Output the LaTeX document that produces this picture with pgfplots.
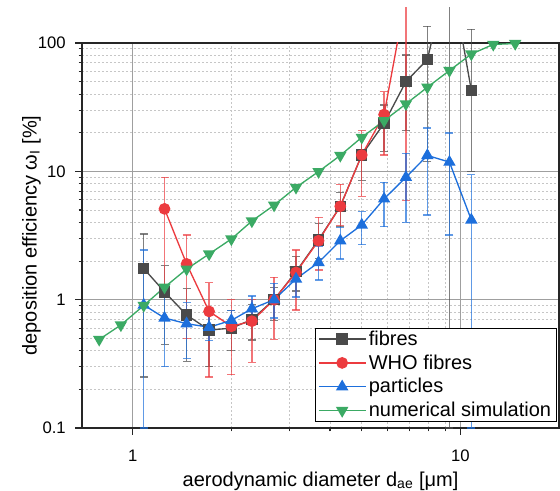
\documentclass[border=0pt]{standalone}
\usepackage{fontspec}
\setmainfont{Liberation Sans}
\usepackage{pgfplots}
\usepackage{pgfplotstable}
\pgfplotsset{compat=1.18}

\definecolor{cfib}{HTML}{4A4A4A}
\definecolor{cwho}{HTML}{EC3B3F}
\definecolor{cpar}{HTML}{1D6FDC}
\definecolor{csim}{HTML}{3BAA64}

% x = d_ae [um], y = efficiency [%], lo/hi = error bar ends
\pgfplotstableread{
x     y     lo     hi
1.08  1.75  0.25   3.25
1.25  1.15  0.45   1.84
1.46  0.76  0.33   1.22
1.71  0.58  0.30   0.85
2.00  0.60  0.40   0.82
2.31  0.70  0.485  0.92
2.70  1.00  0.69   1.25
3.15  1.65  1.17   2.17
3.69  2.92  2.10   3.90
4.30  5.34  3.70   6.86
5.00  13.4  8.50   19.0
5.85  23.7  14.3   32.9
6.82  50.0  20.8   80.7
7.93  74.3  12.0   135
9.26  400   0.1    5000
10.8  42.6  10.0   128
}\fibres

\pgfplotstableread{
x     y     lo     hi
1.25  5.10  1.21   9.00
1.46  1.90  0.50   3.20
1.71  0.81  0.25   1.36
2.00  0.62  0.26   1.00
2.31  0.68  0.325  1.00
2.70  1.00  0.49   1.49
3.15  1.63  0.83   2.44
3.69  2.88  1.70   4.37
4.30  5.34  3.80   7.90
5.00  13.4  6.40   20.8
5.85  27.7  13.4   41.8
6.82  230   5.90   3000
}\who

\pgfplotstableread{
x     y     lo     hi
1.08  0.91  0.1    2.44
1.25  0.72  0.30   1.14
1.46  0.65  0.35   0.95
1.71  0.61  0.48   0.78
2.00  0.69  0.55   0.82
2.31  0.85  0.66   1.07
2.70  1.00  0.72   1.34
3.15  1.45  1.05   1.80
3.69  1.95  1.42   2.60
4.30  2.88  2.07   3.66
5.00  3.82  2.69   4.85
5.85  6.10  3.70   8.20
6.82  8.98  4.00   13.8
7.93  13.3  4.57   21.8
9.26  11.8  3.20   19.9
10.8  4.18  0.1    9.40
}\particles

\pgfplotstableread{
x     y
0.79  0.49
0.92  0.635
1.08  0.90
1.25  1.25
1.46  1.73
1.71  2.27
2.00  2.97
2.31  4.10
2.70  5.45
3.15  7.50
3.69  9.95
4.30  13.3
5.00  18.4
5.85  24.8
6.82  33.5
7.93  45.2
9.26  61.0
10.8  82.0
12.6  97.5
14.7  99.0
}\simdata

\begin{document}
\begin{tikzpicture}
\useasboundingbox (-61.5pt,-46.5pt) rectangle (358.5pt,321pt);
\clip (-61.5pt,-46.5pt) rectangle (358.5pt,315.5pt);

% axis, grid and error bars (error bars are not clipped)
\begin{axis}[
  scale only axis, width=357.75pt, height=288.75pt,
  xmode=log, ymode=log, xmin=0.7, xmax=20, ymin=0.1, ymax=100,
  clip=false,
  grid=both,
  major grid style={gray!75, line width=0.8pt},
  minor grid style={gray!45, line width=0.7pt, dash pattern=on 1.5pt off 1.5pt},
  axis line style={line width=0.9pt, black!85},
  tick pos=left, tick align=outside,
  major tick length=5pt, minor tick length=2.5pt,
  tick style={black!85, line width=0.8pt},
  xtick={1,10}, xticklabels={1,10},
  ytick={0.1,1,10,100}, yticklabels={0.1,1,10,100},
  xticklabel style={anchor=base, inner sep=0pt, yshift=-20pt},
  yticklabel style={anchor=east, inner sep=0pt, xshift=-7pt},
  tick label style={font=\fontsize{12.5}{15}\selectfont},
  label style={font=\fontsize{15}{18}\selectfont},
  xlabel style={at={(axis description cs:0.5,0)}, anchor=base, yshift=-43.5pt},
  ylabel style={at={(axis description cs:0,0.5)}, anchor=base, yshift=34pt},
  xlabel={aerodynamic diameter d\textsubscript{ae} [μm]},
  ylabel={deposition efficiency ω\textsubscript{I} [\%]},
  error bars/y dir=both, error bars/y explicit,
  error bars/error bar style={line width=1pt, opacity=0.7, solid},
  error bars/error mark options={rotate=90, mark size=3pt, line width=1pt, opacity=0.7},
]
\addplot[cfib, only marks, mark=none] table[x=x, y=y, y error plus expr=\thisrow{hi}-\thisrow{y}, y error minus expr=\thisrow{y}-\thisrow{lo}] {\fibres};
\addplot[cwho, only marks, mark=none] table[x=x, y=y, y error plus expr=\thisrow{hi}-\thisrow{y}, y error minus expr=\thisrow{y}-\thisrow{lo}] {\who};
\addplot[cpar, only marks, mark=none] table[x=x, y=y, y error plus expr=\thisrow{hi}-\thisrow{y}, y error minus expr=\thisrow{y}-\thisrow{lo}] {\particles};
\end{axis}

% lines and markers (clipped) with the legend
\begin{axis}[
  scale only axis, width=357.75pt, height=288.75pt,
  xmode=log, ymode=log, xmin=0.7, xmax=20, ymin=0.1, ymax=100,
  hide axis,
  legend cell align=left,
  legend style={at={(1,0)}, anchor=south east, xshift=-1.5pt, yshift=4.5pt,
    draw=black, line width=0.8pt, fill=white,
    font=\fontsize{15}{18}\selectfont, inner xsep=2pt, inner ysep=0pt, row sep=1.5pt},
  legend image code/.code={
    \draw[mark repeat=2, mark phase=2] plot coordinates {(0pt,0pt) (17.5pt,0pt) (35pt,0pt)};
  },
]
\addplot[cfib, line width=1pt, mark=square*, mark size=3.8pt, mark options={solid}] table[x=x, y=y] {\fibres};
\addlegendentry{fibres}
\addplot[cwho, line width=1pt, mark=*, mark size=3.9pt, mark options={solid}] table[x=x, y=y] {\who};
\addlegendentry{WHO fibres}
\addplot[cpar, line width=1pt, mark=triangle*, mark size=4.4pt, mark options={solid}] table[x=x, y=y] {\particles};
\addlegendentry{particles}
\addplot[csim, line width=1pt, mark=triangle*, mark size=4.4pt, mark options={solid, rotate=180}] table[x=x, y=y] {\simdata};
\addlegendentry{numerical simulation}
\end{axis}
\end{tikzpicture}
\end{document}
